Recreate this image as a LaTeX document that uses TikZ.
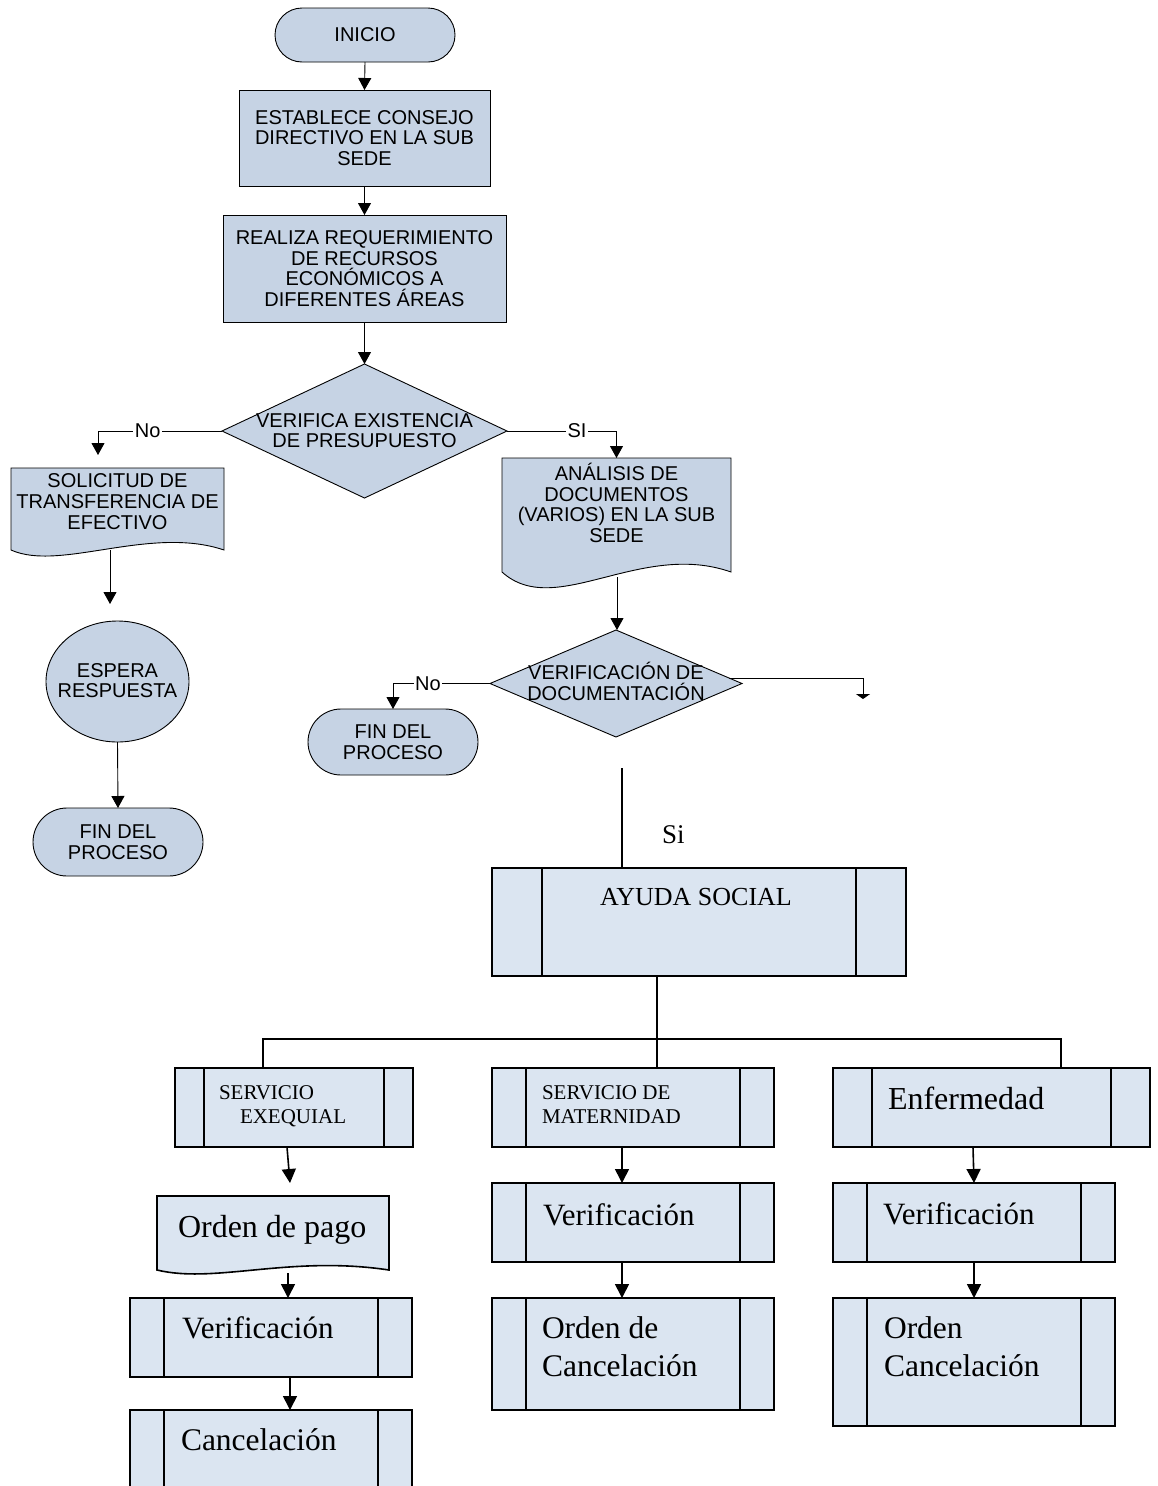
\documentclass[tikz,border=0pt]{standalone}
\usepackage{fontspec}
\setmainfont{Liberation Serif}
\newfontfamily\arialfont{Liberation Sans}
\usetikzlibrary{arrows.meta,shapes.geometric,calc}
\definecolor{topfill}{RGB}{198,211,228}
\definecolor{botfill}{RGB}{219,229,241}

% inner bars of a predefined-process box
\newcommand\sidebars[2]{%
  \draw[bline] ([xshift=#2pt]#1.north west) -- ([xshift=#2pt]#1.south west);
  \draw[bline] ([xshift=-#2pt]#1.north east) -- ([xshift=-#2pt]#1.south east);}

\begin{document}
\begin{tikzpicture}[x=1pt,y=-1pt,
  every node/.style={inner sep=0pt, outer sep=0pt},
  flow/.style={draw=black, line width=0.9pt, fill=topfill},
  atext/.style={font=\arialfont\fontsize{20pt}{20.7pt}\selectfont, align=center},
  lbl/.style={atext, fill=white, inner sep=1.5pt},
  arr/.style={line width=0.9pt, -{Triangle[width=13pt,length=12pt]}},
  bline/.style={line width=1.6pt},
  barr/.style={line width=1.6pt, -{Triangle[width=14pt,length=14pt]}},
  proc/.style={draw=black, line width=1.6pt, fill=botfill},
  ttext/.style={font=\fontsize{#1pt}{#1pt}\selectfont, anchor=base west},
]
\useasboundingbox (0,0) rectangle (1157,1486);
\clip (0,0) rectangle (1157,1486);
\fill[white] (0,0) rectangle (1157,1486);

% ---------- upper flow ----------
\node[flow, rounded corners=27pt, minimum width=180pt, minimum height=54pt, atext] (ini) at (365,35) {INICIO};
\node[flow, minimum width=251pt, minimum height=96pt, atext] (est) at (364.5,138) {ESTABLECE CONSEJO\\DIRECTIVO EN LA SUB\\SEDE};
\node[flow, minimum width=283pt, minimum height=107pt, atext] (rea) at (364.5,268.5) {REALIZA REQUERIMIENTO\\DE RECURSOS\\ECONÓMICOS A\\DIFERENTES ÁREAS};

\node[flow, diamond, minimum width=285pt, minimum height=134pt] (d1) at (364.5,431) {};
\node[atext] (d1t) at (364.5,430.5) {VERIFICA EXISTENCIA\\DE PRESUPUESTO};

% document: solicitud
\node[minimum width=213pt, minimum height=82pt] (sol) at (117.5,509) {};
\draw[flow] (sol.south west) -- (sol.north west) -- (sol.north east) -- (sol.south east)
  .. controls (150,525) and (60,572) .. (sol.south west) -- cycle;
\node[atext] (solt) at (117.5,501.5) {SOLICITUD DE\\TRANSFERENCIA DE\\EFECTIVO};

\node[flow, ellipse, minimum width=143pt, minimum height=121pt] (esp) at (117.5,681.5) {};
\node[atext] (espt) at (117.5,680.5) {ESPERA\\RESPUESTA};

\node[flow, rounded corners=34pt, minimum width=170pt, minimum height=68pt, atext] (fin1) at (118,842) {FIN DEL\\PROCESO};

% document: analisis
\node[minimum width=229pt, minimum height=114pt] (ana) at (616.5,515) {};
\draw[flow] (ana.south west) -- (ana.north west) -- (ana.north east) -- (ana.south east)
  .. controls (640,540) and (555,620) .. (ana.south west) -- cycle;
\node[atext] (anat) at (616.5,503) {ANÁLISIS DE\\DOCUMENTOS\\(VARIOS) EN LA SUB\\SEDE};

\node[flow, diamond, minimum width=252pt, minimum height=107pt] (d2) at (616,683.5) {};
\node[atext] (d2t) at (616,681.5) {VERIFICACIÓN DE\\DOCUMENTACIÓN};

\node[flow, rounded corners=33pt, minimum width=170pt, minimum height=66pt, atext] (fin2) at (393,742) {FIN DEL\\PROCESO};

% upper connectors
\draw[arr] (ini.south) -- (est.north);
\draw[arr] (est.south) -- (rea.north);
\draw[arr] (rea.south) -- (d1.north);
\coordinate (noA) at (98,455);
\draw[arr] (d1.west) -| node[lbl, pos=0.3] {No} (noA);
\draw[arr] (d1.east) -| node[lbl, pos=0.32] {SI} (ana.north);
\coordinate (solB) at (110,550);
\coordinate (espA) at (110,604);
\draw[arr] (solB) -- (espA);
\draw[arr] (esp.south) -- (fin1.north);
\coordinate (anaB) at (617,577);
\draw[arr] (anaB) -- (anaB |- d2.north);
\draw[arr] (d2.west) -| node[lbl, pos=0.32] {No} (fin2.north);
\coordinate (d2R) at (863,699);
\draw[line width=0.9pt, -{Triangle[width=14pt,length=5pt]}] ($(d2.east)!0.1!(d2.north)$) -| (d2R);

% ---------- lower flow ----------
\node[proc, minimum width=414pt, minimum height=108pt] (ays) at (699,922) {};
\sidebars{ays}{50}
\node[ttext=26] (ayst) at (600,905) {AYUDA SOCIAL};
\coordinate (siTop) at (622,768);
\draw[bline] (siTop) -- (siTop |- ays.north);
\node[ttext=27] (si) at (662,843) {Si};

\node[proc, minimum width=238pt, minimum height=79pt] (exq) at (294,1107.5) {};
\sidebars{exq}{29}
\node[ttext=21] (exq1) at (219,1099) {SERVICIO};
\node[ttext=21] (exq2) at (240,1123) {EXEQUIAL};

\node[proc, minimum width=282pt, minimum height=79pt] (mat) at (633,1107.5) {};
\sidebars{mat}{34}
\node[ttext=21] (mat1) at (542,1099) {SERVICIO DE};
\node[ttext=21] (mat2) at (542,1123) {MATERNIDAD};

\node[proc, minimum width=317pt, minimum height=79pt] (enf) at (991.5,1107.5) {};
\sidebars{enf}{39}
\node[ttext=32] (enft) at (888,1109) {Enfermedad};

% tree below AYUDA SOCIAL
\coordinate (brL) at (263,1039);
\coordinate (brM) at (657,1039);
\coordinate (brR) at (1061,1039);
\draw[bline] (brM |- ays.south) -- (brM |- mat.north);
\draw[bline] (brL |- exq.north) -- (brL) -- (brR) -- (brR |- enf.north);

% left column
\node[minimum width=232pt, minimum height=74pt] (op) at (273,1233) {};
\draw[proc] (op.south west) -- (op.north west) -- (op.north east) -- (op.south east)
  .. controls (290,1255) and (215,1284) .. (op.south west) -- cycle;
\node[ttext=32] (opt) at (178,1237) {Orden de pago};

\node[proc, minimum width=282pt, minimum height=79pt] (verL) at (271,1337.5) {};
\sidebars{verL}{34}
\node[ttext=31] (verLt) at (182,1338) {Verificación};

\node[proc, minimum width=282pt, minimum height=90pt] (canL) at (271,1455) {};
\sidebars{canL}{34}
\node[ttext=31.5] (canLt) at (181,1450) {Cancelación};

\coordinate (opA) at (290,1183);
\draw[barr] ([xshift=-7pt]exq.south) -- (opA);
\coordinate (opB) at (288,1273);
\draw[barr] (opB) -- (opB |- verL.north);
\draw[barr] ([xshift=19pt]verL.south) -- ([xshift=19pt]canL.north);

% middle column
\node[proc, minimum width=282pt, minimum height=79pt] (verM) at (633,1222.5) {};
\sidebars{verM}{34}
\node[ttext=31] (verMt) at (543,1225) {Verificación};

\node[proc, minimum width=282pt, minimum height=112pt] (ordM) at (633,1354) {};
\sidebars{ordM}{34}
\node[ttext=31.5] (ordM1) at (542,1338) {Orden de};
\node[ttext=31.5] (ordM2) at (542,1376) {Cancelación};

\draw[barr] ([xshift=-11pt]mat.south) -- ([xshift=-11pt]verM.north);
\draw[barr] ([xshift=-11pt]verM.south) -- ([xshift=-11pt]ordM.north);

% right column
\node[proc, minimum width=282pt, minimum height=79pt] (verR) at (974,1222.5) {};
\sidebars{verR}{34}
\node[ttext=31] (verRt) at (883,1224) {Verificación};

\node[proc, minimum width=282pt, minimum height=128pt] (ordR) at (974,1362) {};
\sidebars{ordR}{34}
\node[ttext=31.5] (ordR1) at (884,1338) {Orden};
\node[ttext=31.5] (ordR2) at (884,1376) {Cancelación};

\draw[barr] ([xshift=-18.5pt]enf.south) -- (verR.north);
\draw[barr] (verR.south) -- (ordR.north);
\end{tikzpicture}
\end{document}
